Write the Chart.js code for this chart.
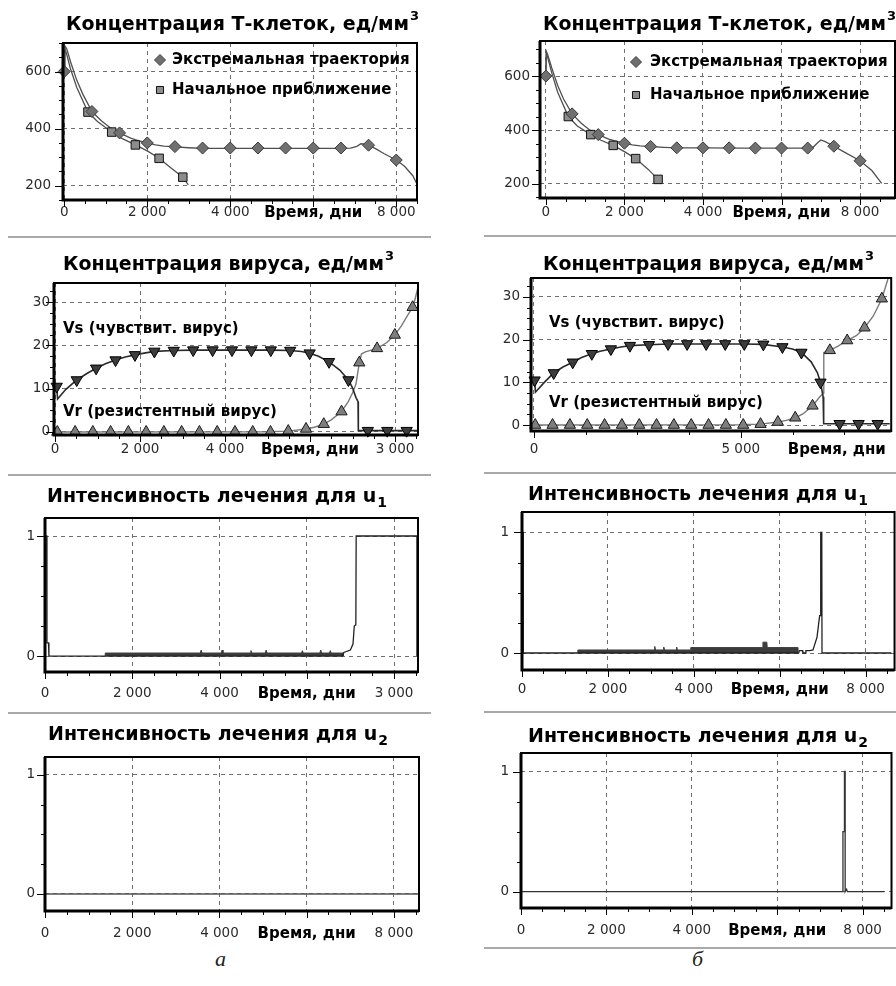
<!DOCTYPE html>
<html><head><meta charset="utf-8">
<script src="https://cdn.jsdelivr.net/npm/chart.js"></script>
<style>
html,body{margin:0;padding:0;background:#fff;}
#wrap{position:relative;width:896px;height:986px;overflow:hidden;background:#fff;}
#wrap canvas{position:absolute;left:0;top:0;}
.sep{position:absolute;height:2px;background:#a9a9a9;}
.lab{position:absolute;font-family:"Liberation Serif","DejaVu Serif",serif;font-style:italic;font-size:22px;line-height:1;color:#222;}
</style></head><body>
<div id="wrap">
  <div class="sep" style="left:8px;top:236px;width:423px"></div>
  <div class="sep" style="left:8px;top:474px;width:423px"></div>
  <div class="sep" style="left:8px;top:712px;width:423px"></div>
  <div class="sep" style="left:484px;top:235px;width:412px"></div>
  <div class="sep" style="left:484px;top:472px;width:412px"></div>
  <div class="sep" style="left:484px;top:711px;width:412px"></div>
  <div class="sep" style="left:484px;top:947px;width:412px"></div>
  <div class="lab" style="left:215px;top:948px">а</div>
  <div class="lab" style="left:692px;top:948px">б</div>
</div>
<script>
// ---------- text ----------
const TITLE_T = 'Концентрация Т-клеток, ед/мм';
const TITLE_V = 'Концентрация вируса, ед/мм';
const TITLE_U = 'Интенсивность лечения для u';
const AXIS_T = 'Время, дни';
const LEG_EXT = 'Экстремальная траектория';
const LEG_INIT = 'Начальное приближение';
const NOTE_VS = 'Vs (чувствит. вирус)';
const NOTE_VR = 'Vr (резистентный вирус)';

// ---------- tick values / labels ----------
const xTicksStd = [0, 2000, 4000, 6000, 8000];
const xLabelsStd = ['0', '2 000', '4 000', AXIS_T, '8 000'];
const xLabelsA3 = ['0', '2 000', '4 000', AXIS_T, '3 000'];
const xTicksV_B = [0, 5000, 7320];
const xLabelsV_B = ['0', '5 000', AXIS_T];
const yTicksT = [200, 400, 600];
const yLabelsT = ['200', '400', '600'];
const yTicksV = [0, 10, 20, 30];
const yLabelsV = ['0', '10', '20', '30'];
const yTicksU = [0, 1];
const yLabelsU = ['0', '1'];

// ---------- panel a: T cells ----------
const tA_extT = [0,15,60,150,300,450,667,900,1100,1333,1600,1800,2000,2200,2400,2667,3000,3333,4000,5000,6000,6667,6900,7050,7150,7250,7333,7500,7700,8000,8200,8400,8500];
const tA_extV = [600,690,680,635,570,520,460,427,404,385,367,357,350,343,339,336,333,331,331,331,331,331,332,338,347,346,342,330,313,290,268,235,205];
const tA_diaT = [0,667,1333,2000,2667,3333,4000,4667,5333,6000,6667,7333,8000];
const tA_diaV = [600,460,385,350,337,332,332,332,332,332,332,342,290];
const tA_iniT = [0,12,50,150,300,571,800,1143,1400,1714,2000,2286,2550,2857,2990];
const tA_iniV = [600,680,665,610,545,458,425,388,365,343,322,296,265,230,203];
const tA_sqT = [571,1143,1714,2286,2857];
const tA_sqV = [458,388,343,296,230];

// ---------- panel б: T cells ----------
const tB_extT = [0,10,40,150,300,450,667,900,1100,1333,1600,1800,2000,2200,2400,2667,3000,3333,4000,5000,6000,6667,6800,6900,7000,7100,7333,7600,8000,8300,8550];
const tB_extV = [600,692,682,630,565,515,460,425,402,383,366,358,351,345,341,339,336,334,334,333,333,333,335,350,363,358,340,318,286,250,202];
const tB_diaT = [0,667,1333,2000,2667,3333,4000,4667,5333,6000,6667,7333,8000];
const tB_diaV = [600,460,383,351,339,334,334,334,333,333,333,340,286];
const tB_iniT = [0,10,40,150,300,571,800,1143,1400,1714,2000,2286,2600,2857];
const tB_iniV = [600,685,672,612,540,450,415,383,362,343,320,294,255,217];
const tB_sqT = [571,1143,1714,2286,2857];
const tB_sqV = [450,383,343,294,217];

// ---------- panel a: virus ----------
const vsA_curT = [0,40,60,250,511,750,967,1200,1424,1650,1881,2100,2338,2794,3251,4164,5078,5534,5800,5991,6200,6448,6700,6904,7000,7080,7130,7137,8540];
const vsA_curV = [10.5,10.5,7.6,9.8,12.0,13.5,14.7,15.8,16.6,17.3,17.8,18.2,18.6,18.8,18.9,18.9,18.9,18.8,18.6,18.2,17.5,16.2,14.3,12.0,10.2,8.0,7.0,0.3,0.3];
const vsA_mkT = [40,511,967,1424,1881,2338,2794,3251,3708,4164,4621,5078,5534,5991,6448,6904,7361,7818,8274];
const vsA_mkV = [10.5,12.0,14.7,16.6,17.8,18.6,18.8,18.9,18.9,18.9,18.9,18.9,18.8,18.2,16.2,12.0,0.3,0.3,0.3];
const vrA_curT = [0,5000,5488,5906,6100,6324,6500,6742,6900,7000,7080,7137,7160,7210,7300,7578,7800,7996,8150,8300,8414,8480,8540];
const vrA_curV = [0,0.05,0.2,0.7,1.1,1.8,2.8,4.7,7.0,9.0,11.0,14.5,16.0,18.0,18.5,19.3,20.6,22.4,24.5,27.0,28.8,31.0,33.4];
const vrA_mkT = [54,472,890,1308,1726,2144,2562,2980,3398,3816,4234,4652,5070,5488,5906,6324,6742,7160,7578,7996,8414];
const vrA_mkV = [0,0,0,0,0,0,0,0,0,0,0,0,0,0.2,0.7,1.8,4.7,16.0,19.3,22.4,28.8];

// ---------- panel б: virus ----------
const vsB_curT = [0,16,35,250,477,700,937,1150,1398,1600,1859,2100,2320,2780,3241,4163,5084,5545,6006,6250,6466,6700,6850,6927,6990,7002,7004,8600];
const vsB_curV = [10.5,10.5,7.7,10.0,12.2,13.6,14.7,15.8,16.7,17.3,17.8,18.3,18.6,18.8,19.0,19.0,19.0,18.9,18.3,17.8,17.0,14.8,12.3,10.0,6.6,6.0,0.3,0.3];
const vsB_mkT = [16,477,937,1398,1859,2320,2780,3241,3702,4163,4623,5084,5545,6006,6466,6927,7388,7848,8309];
const vsB_mkV = [10.5,12.2,14.7,16.7,17.8,18.6,18.8,19.0,19.0,19.0,19.0,19.0,18.9,18.3,17.0,10.0,0.3,0.3,0.3];
const vrB_curT = [0,5000,5477,5896,6100,6315,6500,6734,6900,7000,7006,7153,7350,7572,7800,7991,8200,8410,8557];
const vrB_curV = [0,0.05,0.2,0.7,1.1,1.7,2.6,4.5,6.5,7.5,17.0,17.5,18.5,19.8,21.0,22.8,25.5,29.6,34.2];
const vrB_mkT = [30,449,868,1287,1706,2125,2544,2963,3382,3801,4220,4639,5058,5477,5896,6315,6734,7153,7572,7991,8410];
const vrB_mkV = [0,0,0,0,0,0,0,0,0,0,0,0,0,0.2,0.7,1.7,4.5,17.5,19.8,22.8,29.6];

// ---------- panel a: u1, u2 ----------
const u1A_t = [0,0,40,45,80,90,6820,6850,7000,7060,7090,7125,7133,8525,8525];
const u1A_v = [0,1,1,0.11,0.11,0,0,0.03,0.05,0.1,0.25,0.26,1,1,0];
const u1A_bandT = [1380,1380,3560,3580,3600,4040,4060,4080,4700,4720,4740,5050,5070,5090,5880,5900,5920,6300,6320,6340,6520,6540,6560,6840,6840];
const u1A_bandV = [0,0.025,0.025,0.05,0.025,0.025,0.05,0.025,0.025,0.045,0.025,0.025,0.05,0.025,0.025,0.045,0.025,0.025,0.05,0.025,0.025,0.045,0.025,0.025,0];
const u2A_t = [0,8575];
const u2A_v = [0,0];

// ---------- panel б: u1, u2 ----------
const u1B_t = [0,0,25,30,6440,6460,6530,6540,6600,6610,6700,6775,6868,6930,6950,6955,6980,6985,8600];
const u1B_v = [0,1,1,0,0,0.02,0.02,0,0,0.02,0.02,0.025,0.13,0.31,0.31,1,1,0,0];
const u1B_bandT = [1300,1300,3080,3090,3110,3290,3300,3320,3590,3600,3620,3920,3930,5600,5610,5700,5710,6420,6420];
const u1B_bandV = [0,0.025,0.025,0.055,0.025,0.025,0.05,0.025,0.025,0.05,0.025,0.025,0.045,0.045,0.09,0.09,0.045,0.045,0];
const u2B_t = [0,7540,7540,7572,7575,7590,7592,7625,7645,8508];
const u2B_v = [0,0,0.5,0.5,1,1,0,0.02,0,0];

// ---------- helpers ----------
const FONT = '"DejaVu Sans", sans-serif';
Chart.defaults.font.family = FONT;
const pts = (t, v) => t.map((x, i) => ({x: x, y: v[i]}));
const lineDS = (t, v, color, w, extra) => Object.assign({data: pts(t, v), borderColor: color, backgroundColor: color, borderWidth: w, pointRadius: 0, fill: false, tension: 0, order: 2}, extra || {});
const markDS = (label, t, v, style, r, fill, stroke, rot) => ({label: label, data: pts(t, v), showLine: false, pointStyle: style, pointRadius: r, pointBackgroundColor: fill, pointBorderColor: stroke, pointBorderWidth: 1, pointRotation: rot || 0, clip: false, order: 0});

const deco = {
  id: 'deco',
  afterDatasetsDraw(chart, args, o) {
    const ctx = chart.ctx, a = chart.chartArea, xs = chart.scales.x, ys = chart.scales.y;
    const near = (v, arr, eps) => arr.some(m => Math.abs(m - v) < eps);
    ctx.save();
    ctx.setLineDash([]);
    ctx.strokeStyle = '#000';
    ctx.lineWidth = 1;
    for (let k = Math.ceil(xs.min / o.xMinor - 1e-9); k * o.xMinor <= xs.max + 1e-9; k++) {
      const v = k * o.xMinor, p = Math.round(xs.getPixelForValue(v)) + 0.5;
      const len = near(v, o.xMajor, o.xMinor / 10) ? 7 : 4;
      ctx.beginPath(); ctx.moveTo(p, a.bottom); ctx.lineTo(p, a.bottom + len); ctx.stroke();
    }
    for (let k = Math.ceil(ys.min / o.yMinor - 1e-9); k * o.yMinor <= ys.max + 1e-9; k++) {
      const v = k * o.yMinor, p = Math.round(ys.getPixelForValue(v)) + 0.5;
      const len = near(v, o.yMajor, o.yMinor / 10) ? 8 : 4;
      ctx.beginPath(); ctx.moveTo(a.left, p); ctx.lineTo(a.left - len, p); ctx.stroke();
    }
    ctx.lineWidth = 2;
    ctx.strokeRect(a.left, a.top, a.right - a.left, a.bottom - a.top);
    ctx.lineWidth = 3;
    ctx.beginPath(); ctx.moveTo(a.left, a.top); ctx.lineTo(a.left, a.bottom); ctx.lineTo(a.right, a.bottom); ctx.stroke();
    ctx.restore();
  },
  afterDraw(chart, args, o) {
    const ctx = chart.ctx;
    ctx.save();
    ctx.textBaseline = 'middle'; ctx.textAlign = 'left'; ctx.fillStyle = '#000';
    const t = o.title;
    if (t) {
      ctx.font = 'bold 19px ' + FONT;
      ctx.fillText(t.text, t.x, t.y);
      const w = ctx.measureText(t.text).width;
      if (t.sup) { ctx.font = 'bold 13px ' + FONT; ctx.fillText(t.sup, t.x + w + 1, t.y - 8); }
      if (t.sub) { ctx.font = 'bold 14px ' + FONT; ctx.fillText(t.sub, t.x + w + 1, t.y + 6); }
    }
    (o.legend || []).forEach(it => {
      const ds = chart.data.datasets.find(d => d.label === it.label);
      ctx.fillStyle = ds.pointBackgroundColor; ctx.strokeStyle = ds.pointBorderColor; ctx.lineWidth = ds.pointBorderWidth;
      Chart.helpers.drawPoint(ctx, {pointStyle: ds.pointStyle, radius: it.r, rotation: ds.pointRotation || 0, borderWidth: ds.pointBorderWidth}, it.x, it.y);
      ctx.fillStyle = '#000'; ctx.font = 'bold 15px ' + FONT;
      ctx.fillText(ds.label, it.tx, it.y);
    });
    (o.notes || []).forEach(n => {
      ctx.fillStyle = '#000'; ctx.font = 'bold 15px ' + FONT;
      ctx.fillText(n.text, n.x, n.y);
    });
    ctx.restore();
  }
};

const wrap = document.getElementById('wrap');
function panel(cfg) {
  const cv = document.createElement('canvas');
  cv.width = 896; cv.height = 986;
  wrap.appendChild(cv);
  const A = cfg.area; // left, top, right, bottom
  const hide = cfg.x.hide || [];
  new Chart(cv, {
    type: 'line',
    data: {datasets: cfg.datasets},
    options: {
      responsive: false, animation: false, events: [], devicePixelRatio: 1,
      layout: {autoPadding: false, padding: {left: 0, top: A[1], right: 896 - A[2], bottom: 0}},
      scales: {
        x: {
          type: 'linear', bounds: 'data', min: cfg.x.min, max: cfg.x.max,
          afterFit: s => { s.height = 986 - A[3]; },
          afterBuildTicks: s => { s.ticks = cfg.x.ticks.map(v => ({value: v})); },
          ticks: {
            autoSkip: false, maxRotation: 0, minRotation: 0, padding: cfg.x.pad,
            callback: (v, i) => cfg.x.labels[i],
            color: c => cfg.x.labels[c.index] === AXIS_T ? '#000' : '#2a2a2a',
            font: c => cfg.x.labels[c.index] === AXIS_T ? {family: FONT, size: 15, weight: 'bold'} : {family: FONT, size: 13.5}
          },
          grid: {drawTicks: false, lineWidth: 1, color: c => (c.tick && hide.indexOf(c.tick.value) >= 0) ? 'rgba(0,0,0,0)' : '#6e6e6e'},
          border: {display: false, dash: [4, 4]}
        },
        y: {
          type: 'linear', bounds: 'data', min: cfg.y.min, max: cfg.y.max,
          afterFit: s => { s.width = A[0]; },
          afterBuildTicks: s => { s.ticks = cfg.y.ticks.map(v => ({value: v})); },
          ticks: {padding: cfg.y.pad, color: '#2a2a2a', font: {family: FONT, size: 13.5}, callback: (v, i) => cfg.y.labels[i]},
          grid: {drawTicks: false, lineWidth: 1, color: '#6e6e6e'},
          border: {display: false, dash: [4, 4]}
        }
      },
      plugins: {
        legend: {display: false}, tooltip: {enabled: false}, title: {display: false},
        deco: {
          xMinor: cfg.x.minor, yMinor: cfg.y.minor,
          xMajor: cfg.x.ticks.filter(v => hide.indexOf(v) < 0), yMajor: cfg.y.ticks,
          title: cfg.title, legend: cfg.legend, notes: cfg.notes
        }
      }
    },
    plugins: [deco]
  });
}

const C_LINE = '#505050', C_DIA = '#707070', C_SQ = '#8c8c8c';

// ---- а, T cells ----
panel({
  area: [63, 43, 417, 200],
  x: {min: -30, max: 8500, ticks: xTicksStd, labels: xLabelsStd, pad: 4, minor: 500},
  y: {min: 150, max: 700, ticks: yTicksT, labels: yLabelsT, pad: 12, minor: 50},
  title: {text: TITLE_T, sup: '3', x: 66, y: 25},
  legend: [{label: LEG_EXT, x: 160, tx: 172, y: 60, r: 5.5}, {label: LEG_INIT, x: 160, tx: 172, y: 90, r: 5}],
  datasets: [
    markDS(LEG_EXT, tA_diaT, tA_diaV, 'rectRot', 6, C_DIA, '#3a3a3a'),
    markDS(LEG_INIT, tA_sqT, tA_sqV, 'rect', 6, C_SQ, '#111'),
    lineDS(tA_extT, tA_extV, C_LINE, 1.3),
    lineDS(tA_iniT, tA_iniV, C_LINE, 1.3)
  ]
});
// ---- б, T cells ----
panel({
  area: [540, 41, 895, 198],
  x: {min: -150, max: 8890, ticks: xTicksStd, labels: xLabelsStd, pad: 6, minor: 500},
  y: {min: 148, max: 730, ticks: yTicksT, labels: yLabelsT, pad: 10, minor: 50},
  title: {text: TITLE_T, sup: '3', x: 543, y: 25},
  legend: [{label: LEG_EXT, x: 636, tx: 650, y: 62, r: 5.5}, {label: LEG_INIT, x: 636, tx: 650, y: 95, r: 5}],
  datasets: [
    markDS(LEG_EXT, tB_diaT, tB_diaV, 'rectRot', 6, C_DIA, '#3a3a3a'),
    markDS(LEG_INIT, tB_sqT, tB_sqV, 'rect', 6, C_SQ, '#111'),
    lineDS(tB_extT, tB_extV, C_LINE, 1.3),
    lineDS(tB_iniT, tB_iniV, C_LINE, 1.3)
  ]
});
// ---- а, virus ----
panel({
  area: [54, 283, 418, 435],
  x: {min: -24, max: 8541, ticks: xTicksStd, labels: xLabelsA3, pad: 6, minor: 500},
  y: {min: -0.7, max: 34.4, ticks: yTicksV, labels: yLabelsV, pad: 4, minor: 2.5},
  title: {text: TITLE_V, sup: '3', x: 63, y: 265},
  notes: [{text: NOTE_VS, x: 63, y: 329}, {text: NOTE_VR, x: 63, y: 412}],
  datasets: [
    markDS('Vs', vsA_mkT, vsA_mkV, 'triangle', 6.5, '#3c3c3c', '#000', 180),
    markDS('Vr', vrA_mkT, vrA_mkV, 'triangle', 6.5, '#7e7e7e', '#1a1a1a'),
    lineDS(vsA_curT, vsA_curV, '#2a2a2a', 1.6),
    lineDS(vrA_curT, vrA_curV, '#7a7a7a', 1.4)
  ]
});
// ---- б, virus ----
panel({
  area: [531, 278, 895, 431],
  x: {min: -72, max: 8636, ticks: xTicksV_B, labels: xLabelsV_B, hide: [7320], pad: 10, minor: 1250},
  y: {min: -1.4, max: 34.45, ticks: yTicksV, labels: yLabelsV, pad: 11, minor: 2.5},
  title: {text: TITLE_V, sup: '3', x: 543, y: 265},
  notes: [{text: NOTE_VS, x: 549, y: 323}, {text: NOTE_VR, x: 549, y: 403}],
  datasets: [
    markDS('Vs', vsB_mkT, vsB_mkV, 'triangle', 6.5, '#3c3c3c', '#000', 180),
    markDS('Vr', vrB_mkT, vrB_mkV, 'triangle', 6.5, '#7e7e7e', '#1a1a1a'),
    lineDS(vsB_curT, vsB_curV, '#2a2a2a', 1.6),
    lineDS(vrB_curT, vrB_curV, '#7a7a7a', 1.4)
  ]
});
// ---- а, u1 ----
panel({
  area: [45, 518, 418, 672],
  x: {min: 0, max: 8550, ticks: xTicksStd, labels: xLabelsA3, pad: 13, minor: 500},
  y: {min: -0.133, max: 1.15, ticks: yTicksU, labels: yLabelsU, pad: 10, minor: 0.25},
  title: {text: TITLE_U, sub: '1', x: 47, y: 497},
  datasets: [
    lineDS(u1A_t, u1A_v, '#222', 1.3, {order: 1}),
    lineDS(u1A_bandT, u1A_bandV, '#3c3c3c', 1, {fill: 'origin', backgroundColor: '#3c3c3c'})
  ]
});
// ---- б, u1 ----
panel({
  area: [522, 512, 895, 670],
  x: {min: 0, max: 8674, ticks: xTicksStd, labels: xLabelsStd, pad: 11, minor: 500},
  y: {min: -0.141, max: 1.17, ticks: yTicksU, labels: yLabelsU, pad: 13, minor: 0.25},
  title: {text: TITLE_U, sub: '1', x: 528, y: 495},
  datasets: [
    lineDS(u1B_t, u1B_v, '#222', 1.3, {order: 1}),
    lineDS(u1B_bandT, u1B_bandV, '#3c3c3c', 1, {fill: 'origin', backgroundColor: '#3c3c3c'})
  ]
});
// ---- а, u2 ----
panel({
  area: [45, 757, 419, 911],
  x: {min: 0, max: 8575, ticks: xTicksStd, labels: xLabelsStd, pad: 14, minor: 500},
  y: {min: -0.143, max: 1.151, ticks: yTicksU, labels: yLabelsU, pad: 10, minor: 0.25},
  title: {text: TITLE_U, sub: '2', x: 48, y: 735},
  datasets: [lineDS(u2A_t, u2A_v, '#555', 1.3)]
});
// ---- б, u2 ----
panel({
  area: [521, 753, 895, 908],
  x: {min: 0, max: 8677, ticks: xTicksStd, labels: xLabelsStd, pad: 14, minor: 500},
  y: {min: -0.136, max: 1.154, ticks: yTicksU, labels: yLabelsU, pad: 12, minor: 0.25},
  title: {text: TITLE_U, sub: '2', x: 528, y: 737},
  datasets: [lineDS(u2B_t, u2B_v, '#333', 1.3)]
});
</script>
</body></html>
